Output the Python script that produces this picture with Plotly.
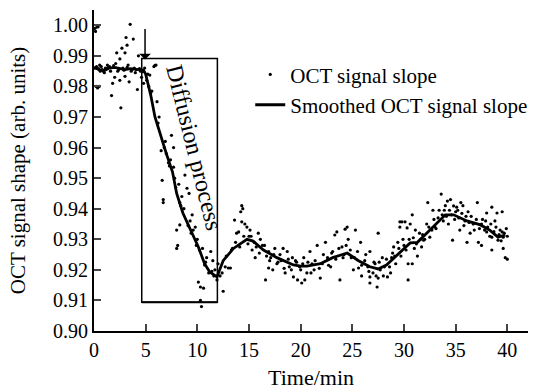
import plotly.graph_objects as go

# ---- raw OCT signal slope points (time in min, slope value) ----
raw_time = [
    0.05, 0.1, 0.15, 0.2, 0.3, 0.35, 0.4, 0.5, 0.55, 0.6, 0.8, 1.0, 1.1, 1.3, 1.5, 1.6, 1.7, 1.8,
    2.0, 2.1, 2.2, 2.3, 2.5, 2.5, 2.6, 2.7, 2.8, 3.0, 3.0, 3.1, 3.2, 3.3, 3.4, 3.5, 3.6, 3.8, 3.9,
    4.0, 4.2, 4.3, 4.5, 4.6, 4.8, 4.9,
    5.1, 5.2, 5.3, 5.4, 5.5, 5.8, 5.9, 6.0, 6.1, 6.3, 6.5, 6.6, 6.7, 6.7, 6.9, 7.0, 7.2, 7.4, 7.5,
    7.7, 7.7, 7.8, 8.0, 8.0, 8.1, 8.2, 8.3, 8.3, 8.5, 8.8, 9.0, 9.2, 9.3, 9.5, 9.6, 9.8, 10.0, 10.1,
    10.3, 10.3, 10.4, 10.5, 10.6, 10.7, 10.9, 11.1, 11.3, 11.5, 11.7, 11.9, 12.0, 12.2,
    12.4, 12.5, 12.7, 13.0, 13.2, 13.4, 13.6, 13.8, 14.0, 14.2, 14.3, 14.3, 14.4, 14.6, 14.8, 15.0,
    15.1, 15.3, 15.5, 15.6, 15.9, 16.1, 16.3, 16.6, 16.9, 16.9, 17.1, 17.3, 17.5, 17.7, 18.0, 18.3,
    18.5, 18.7, 18.9, 19.2, 19.3, 19.5, 19.7, 19.9, 20.1,
    20.3, 20.4, 20.6, 20.9, 21.1, 21.3, 21.6, 21.9, 22.1, 22.4, 22.6, 22.9, 23.1, 23.3, 23.5, 23.8,
    24.0, 24.2, 24.3, 24.5, 24.6, 24.9, 25.1, 25.3, 25.6, 25.8, 25.9, 26.2, 26.5, 26.7, 26.7, 26.7,
    27.0, 27.2, 27.4, 27.5, 27.5, 27.7, 27.9, 28.1, 28.4, 28.7, 28.8, 29.0, 29.2, 29.4, 29.6, 29.6,
    29.8, 29.9,
    30.1, 30.3, 30.4, 30.4, 30.6, 30.8, 30.8, 31.0, 31.1, 31.3, 31.6, 31.7, 31.9, 32.2, 32.3, 32.5,
    32.8, 33.0, 33.3, 33.6, 33.8, 34.0, 34.2, 34.3, 34.5, 34.7, 34.8, 35.0, 35.2, 35.3, 35.4, 35.5,
    35.7, 35.9, 36.1, 36.2, 36.4, 36.7, 37.1, 37.2, 37.5, 37.5, 37.8, 38.0, 38.0, 38.3, 38.5, 38.5,
    38.5, 38.8, 39.0, 39.1, 39.3, 39.5, 39.5, 39.6, 39.6, 39.8, 40.0, 40.0,
    # points lying close to the smoothed curve
    0.25, 0.45, 0.7, 0.9, 1.2, 1.4, 1.9, 2.4, 2.9, 3.2, 3.7, 4.1, 4.4, 4.7,
    5.6, 6.2, 6.8, 7.3, 7.9, 8.4, 8.7, 9.1, 9.4, 9.9, 10.2, 10.8, 11.4, 11.6,
    12.8, 13.3, 13.7, 14.1, 14.5, 14.9, 15.2, 15.7, 16.0, 16.5, 16.7, 17.0, 17.4, 17.8, 18.1, 18.4,
    18.8, 19.1, 19.6, 20.0,
    20.2, 20.7, 21.0, 21.4, 21.8, 22.2, 22.7, 23.0, 23.4, 23.7, 24.1, 24.4, 24.8, 25.2, 25.5, 25.9,
    26.3, 26.6, 27.1, 27.3, 27.6, 28.0, 28.3, 28.6, 28.9, 29.1, 29.5, 29.7,
    30.0, 30.2, 30.5, 30.9, 31.2, 31.5, 31.8, 32.0, 32.4, 32.7, 32.9, 33.1, 33.4, 33.7, 33.9, 34.1,
    34.4, 34.6, 34.9, 35.1, 35.6, 35.8, 36.0, 36.3, 36.5, 36.8, 37.0, 37.3, 37.6, 37.9, 38.1, 38.4,
    38.7, 38.9, 39.2, 39.4, 39.7, 39.9,
]
raw_slope = [
    0.986, 0.999, 0.998, 0.980, 0.9995, 0.9795, 0.9995, 0.980, 0.987, 0.985, 0.9855, 0.9845, 0.986,
    0.987, 0.9865, 0.985, 0.977, 0.981,
    0.983, 0.9875, 0.991, 0.985, 0.982, 0.989, 0.973, 0.9925, 0.986, 0.991, 0.9833, 0.996, 0.9935,
    0.987, 0.9815, 1.0003, 0.985, 0.9955, 0.986,
    0.9845, 0.979, 0.990, 0.985, 0.983, 0.981, 0.986,
    0.982, 0.984, 0.980, 0.9837, 0.978, 0.9865, 0.9869, 0.987, 0.975, 0.970, 0.959, 0.9493, 0.943,
    0.942, 0.962, 0.958, 0.955, 0.956, 0.964,
    0.960, 0.9536, 0.950, 0.933, 0.927, 0.928, 0.948, 0.942, 0.9347, 0.944, 0.951, 0.9467, 0.945,
    0.936, 0.938, 0.933, 0.934, 0.930, 0.916,
    0.9144, 0.910, 0.908, 0.927, 0.914, 0.9216, 0.924, 0.919, 0.926, 0.923, 0.920, 0.9167, 0.922,
    0.918,
    0.919, 0.913, 0.921, 0.9206, 0.9206, 0.927, 0.9363, 0.932, 0.9324, 0.939, 0.941, 0.9357, 0.940,
    0.935, 0.934, 0.931,
    0.933, 0.9265, 0.929, 0.924, 0.932, 0.930, 0.928, 0.9167, 0.9206, 0.926, 0.924, 0.920, 0.927,
    0.922, 0.925, 0.927,
    0.919, 0.926, 0.921, 0.924, 0.9177, 0.923, 0.9167, 0.921, 0.9157,
    0.924, 0.9167, 0.919, 0.926, 0.922, 0.920, 0.928, 0.9173, 0.922, 0.929, 0.924, 0.921, 0.926,
    0.9314, 0.9324, 0.9167,
    0.9275, 0.925, 0.9333, 0.934, 0.930, 0.924, 0.920, 0.933, 0.9206, 0.929, 0.918, 0.923, 0.921,
    0.926, 0.9177, 0.9157,
    0.919, 0.922, 0.9144, 0.932, 0.9173, 0.920, 0.924, 0.921, 0.9177, 0.919, 0.924, 0.9275, 0.922,
    0.929, 0.9357, 0.934,
    0.9357, 0.930,
    0.9357, 0.9337, 0.9167, 0.922, 0.935, 0.938, 0.922, 0.927, 0.933, 0.9245, 0.930, 0.9275, 0.9297,
    0.935, 0.942, 0.9307,
    0.9395, 0.934, 0.937, 0.9448, 0.936, 0.941, 0.9425, 0.935, 0.943, 0.9297, 0.9409, 0.939, 0.9395,
    0.937, 0.933, 0.942,
    0.941, 0.936, 0.929, 0.939, 0.932, 0.935, 0.942, 0.929, 0.935, 0.928, 0.933, 0.9386, 0.9324,
    0.931, 0.9405, 0.9307,
    0.9265, 0.936, 0.9386, 0.9297, 0.933, 0.939, 0.9324, 0.9307, 0.927, 0.924, 0.9235, 0.931,
    # points lying close to the smoothed curve
    0.9865, 0.9858, 0.9865, 0.9850, 0.9858, 0.9862, 0.9868, 0.9855, 0.9853, 0.9862, 0.9856, 0.9855,
    0.9858, 0.9848,
    0.9785, 0.968, 0.960, 0.954, 0.947, 0.941, 0.940, 0.9345, 0.932, 0.928, 0.9265, 0.9225, 0.9195,
    0.918,
    0.9245, 0.9265, 0.929, 0.9275, 0.931, 0.9285, 0.931, 0.9275, 0.9255, 0.928, 0.9245, 0.923,
    0.925, 0.9225, 0.923, 0.9205,
    0.9235, 0.920, 0.9225, 0.920,
    0.922, 0.9225, 0.919, 0.923, 0.9205, 0.925, 0.9215, 0.9255, 0.9235, 0.927, 0.924, 0.928,
    0.9265, 0.924, 0.926, 0.9215,
    0.925, 0.9195, 0.9225, 0.918, 0.9225, 0.918, 0.9235, 0.921, 0.9255, 0.9245, 0.927, 0.9245,
    0.928, 0.9265, 0.930, 0.9305, 0.9285, 0.932, 0.9315, 0.930, 0.934, 0.933, 0.9365, 0.9335,
    0.9395, 0.938, 0.9395, 0.9375,
    0.9395, 0.938, 0.9365, 0.9405, 0.9385, 0.9345, 0.9375, 0.9355, 0.9375, 0.933, 0.9365, 0.9335,
    0.9365, 0.936, 0.934, 0.935,
    0.9325, 0.934, 0.9315, 0.9295, 0.932, 0.9335,
]

# ---- smoothed curve ----
smooth_time = [0, 0.5, 1, 1.5, 2, 2.5, 3, 3.5, 4, 4.5, 4.8, 5.0, 5.5, 5.9, 6.5, 7.0, 7.6, 8.0,
               8.6, 9.0, 9.5, 10.1, 10.7, 11.2, 11.9, 12.5, 13.5, 14.0, 14.8, 15.4, 16.4, 17.7,
               19.3, 20.0, 20.6, 21.9, 23.1, 24.5, 25.6, 26.7, 27.5, 28.3, 29.6, 30.6, 31.3,
               32.2, 33.2, 34.0, 34.8, 36.1, 37.4, 38.3, 39.1, 39.8]
smooth_slope = [0.9862, 0.9855, 0.9852, 0.9860, 0.9862, 0.9858, 0.9855, 0.9858, 0.9856, 0.9853,
                0.9853, 0.9840, 0.9770, 0.9700, 0.9630, 0.9580, 0.9520, 0.9450, 0.9386, 0.9355,
                0.9320, 0.9275, 0.9220, 0.9193, 0.9177, 0.9230, 0.9270, 0.9282, 0.9300, 0.9294,
                0.9265, 0.9240, 0.9216, 0.9212, 0.9212, 0.9220, 0.9240, 0.9255, 0.9230, 0.9210,
                0.9203, 0.9216, 0.9255, 0.9288, 0.9290, 0.9320, 0.9350, 0.9380, 0.9380, 0.9360,
                0.9347, 0.9330, 0.9307, 0.9314]

x_ticks = [0, 5, 10, 15, 20, 25, 30, 35, 40]
y_ticks = [0.90, 0.91, 0.92, 0.93, 0.94, 0.95, 0.96, 0.97, 0.98, 0.99, 1.00]

# diffusion box & arrow (data coordinates)
box_t = [4.62, 11.94]
box_v = [0.9094, 0.9891]
arrow_t = 4.94
arrow_v = [0.9993, 0.9888]

FONT = "Times New Roman, Liberation Serif, serif"

fig = go.Figure()
fig.add_trace(go.Scatter(
    x=raw_time, y=raw_slope, mode="markers", name="OCT signal slope",
    marker=dict(color="black", size=3.2), legendgroup="a"))
fig.add_trace(go.Scatter(
    x=smooth_time, y=smooth_slope, mode="lines", name="Smoothed OCT signal slope",
    line=dict(color="black", width=2.8), legendgroup="b"))

fig.add_shape(type="rect", x0=box_t[0], x1=box_t[1], y0=box_v[0], y1=box_v[1],
              xref="x", yref="y", line=dict(color="black", width=1.5))
fig.add_shape(type="line", x0=box_t[0], x1=box_t[1], y0=box_v[0], y1=box_v[0],
              xref="x", yref="y", line=dict(color="black", width=2.2))

fig.add_annotation(x=arrow_t, y=arrow_v[1], ax=arrow_t, ay=arrow_v[0], xref="x", yref="y",
                   axref="x", ayref="y", showarrow=True, arrowhead=1, arrowsize=1.3,
                   arrowwidth=1.5, arrowcolor="black", text="")
fig.add_annotation(x=9.7, y=0.9598, xref="x", yref="y", text="Diffusion process",
                   showarrow=False, textangle=76,
                   font=dict(family=FONT, size=24, color="black"))

fig.update_layout(
    width=539, height=392,
    margin=dict(l=94, r=11, t=10, b=61, autoexpand=False),
    plot_bgcolor="white", paper_bgcolor="white",
    font=dict(family=FONT, size=20, color="black"),
    showlegend=True,
    legend=dict(x=0.36, y=0.862, xanchor="left", yanchor="top",
                font=dict(family=FONT, size=21, color="black"),
                bgcolor="rgba(0,0,0,0)", tracegroupgap=0, itemwidth=30),
)
fig.update_xaxes(range=[0, 42], tickvals=x_ticks, ticks="inside", ticklen=7, tickwidth=2,
                 showline=True, linecolor="black", linewidth=2, showgrid=False, zeroline=False,
                 tickfont=dict(family=FONT, size=20, color="black"),
                 title=dict(text="Time/min", font=dict(family=FONT, size=22, color="black"),
                            standoff=10))
fig.update_yaxes(range=[0.90, 1.005], tickvals=y_ticks, tickformat=".2f", ticks="inside",
                 ticklen=7, tickwidth=2, showline=True, linecolor="black", linewidth=2,
                 showgrid=False, zeroline=False, tickfont=dict(family=FONT, size=20, color="black"),
                 title=dict(text="OCT signal shape (arb. units)",
                            font=dict(family=FONT, size=21, color="black"), standoff=22))

fig.write_html("out.html")
